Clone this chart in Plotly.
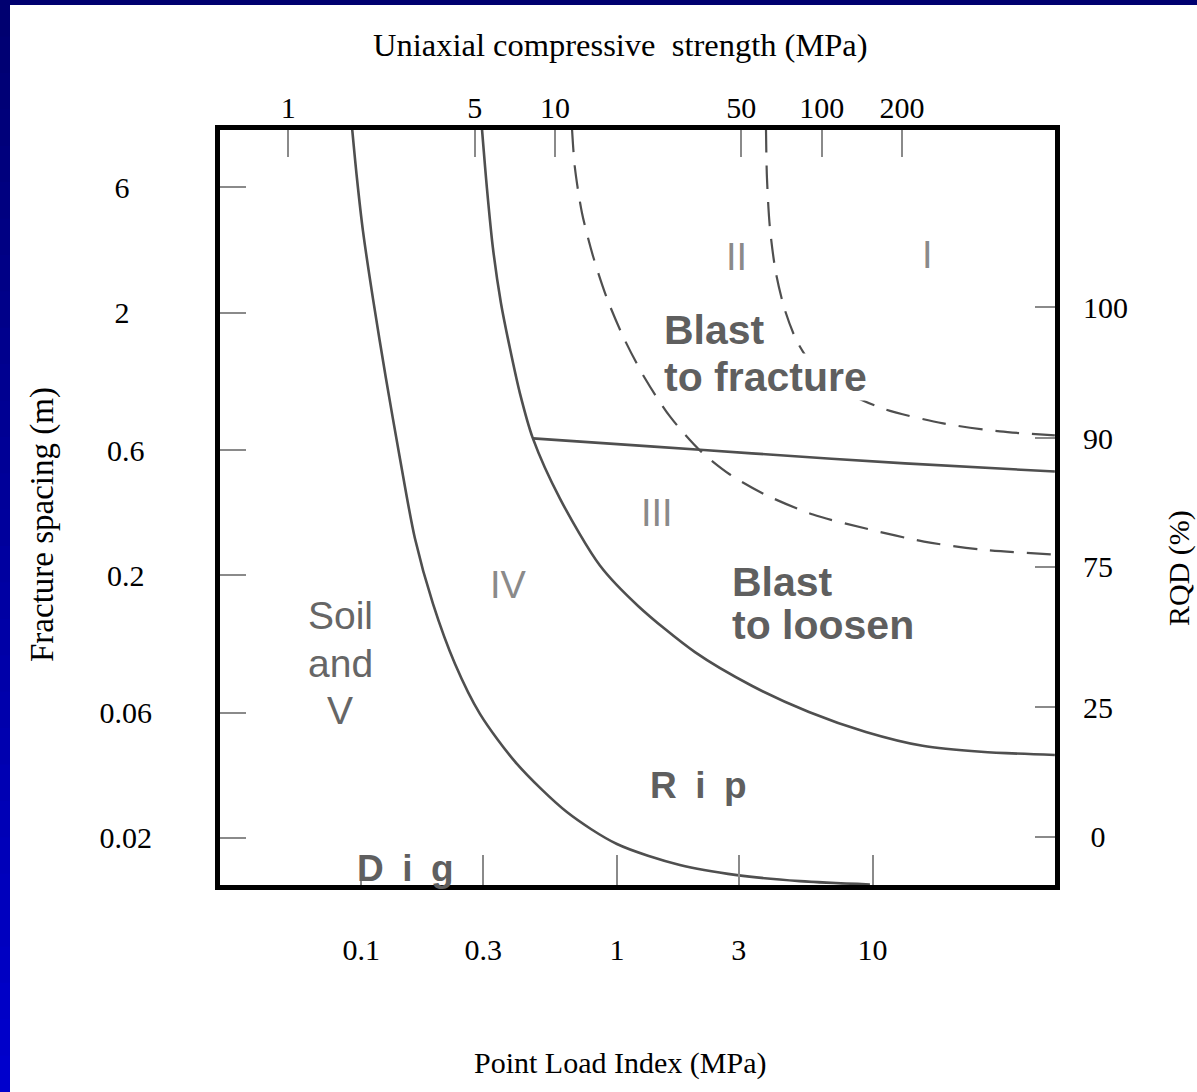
import plotly.graph_objects as go

# ---------------- data ----------------
# Axis ticks
is_ticks = [0.1, 0.3, 1, 3, 10]                 # Point Load Index (MPa)
is_labels = ["0.1", "0.3", "1", "3", "10"]
ucs_ticks = [1, 5, 10, 50, 100, 200]            # Uniaxial compressive strength (MPa)
ucs_labels = ["1", "5", "10", "50", "100", "200"]
spacing_ticks = [6, 2, 0.6, 0.2, 0.06, 0.02]    # Fracture spacing (m)
spacing_labels = ["6", "2", "0.6", "0.2", "0.06", "0.02"]
rqd_at_spacing = [2.1, 0.665, 0.216, 0.063, 0.0202]   # RQD ticks expressed as spacing
rqd_labels = ["100", "90", "75", "25", "0"]

# Boundary curves: point load index (MPa) vs fracture spacing (m)
dig_rip_is = [0.0920, 0.0961, 0.1015, 0.1110, 0.1248, 0.1416, 0.1621, 0.1906, 0.2324,
              0.2911, 0.4062, 0.637, 1.0, 1.763, 2.95, 5.2, 9.77]
dig_rip_sp = [10.1, 6.52, 4.09, 2.27, 1.126, 0.5577, 0.2763, 0.1561, 0.0922,
              0.0594, 0.0383, 0.0251, 0.01897, 0.01578, 0.01444, 0.0137, 0.0133]

rip_blast_is = [0.2963, 0.3100, 0.3272, 0.3517, 0.3814, 0.4174, 0.469, 0.598, 0.858,
                1.21, 2.02, 3.37, 5.64, 9.42, 15.7, 26.6, 51.7]
rip_blast_sp = [10.1, 5.97, 3.53, 2.18, 1.465, 0.987, 0.665, 0.393, 0.218,
                0.153, 0.102, 0.076, 0.0604, 0.0507, 0.0449, 0.0426, 0.0414]

loosen_fracture_is = [0.469, 1.35, 3.37, 13.4, 51.7]
loosen_fracture_sp = [0.665, 0.620, 0.583, 0.534, 0.497]

class_2_3_is = [0.667, 0.685, 0.730, 0.806, 0.914, 1.065, 1.287, 1.612, 2.112, 2.768,
                3.794, 5.85, 9.42, 15.9, 26.6, 51.7]
class_2_3_sp = [10.1, 7.12, 4.80, 3.29, 2.27, 1.600, 1.126, 0.806, 0.598, 0.4845,
                0.4065, 0.3410, 0.3016, 0.269, 0.2508, 0.240]

class_1_2_is = [3.83, 3.864, 3.969, 4.190, 4.543, 5.061, 5.793, 6.813, 8.306, 11.2,
                18.9, 31.5, 51.7]
class_1_2_sp = [10.1, 6.52, 4.204, 2.831, 2.046, 1.558, 1.273, 1.097, 0.970, 0.858,
                0.758, 0.707, 0.682]

# ---------------- figure ----------------
W, H = 1197, 1092
ML, MR, MT, MB = 220, 142, 130, 207
PW, PH = W - ML - MR, H - MT - MB

def px(xp):
    return (xp - ML) / PW

def py(yp):
    return (H - MB - yp) / PH

SERIF = "Times New Roman, Liberation Serif, serif"
SANS = "Arial, Liberation Sans, Helvetica, sans-serif"
LINE = "#4f4f4f"
TICK = "#8a8a8a"
NB = "\u00a0"

fig = go.Figure()

solid = dict(color=LINE, width=2.6)
dashed = dict(color=LINE, width=2.2, dash="24px,13px")

for xs, ys, ln in [
    (dig_rip_is, dig_rip_sp, solid),
    (rip_blast_is, rip_blast_sp, solid),
    (loosen_fracture_is, loosen_fracture_sp, solid),
    (class_2_3_is, class_2_3_sp, dashed),
    (class_1_2_is, class_1_2_sp, dashed),
]:
    fig.add_trace(go.Scatter(x=xs, y=ys, mode="lines", line=dict(shape="spline", smoothing=0.8, **ln),
                             hoverinfo="skip", showlegend=False))

# empty trace so that the secondary (UCS / RQD) axes are drawn
fig.add_trace(go.Scatter(x=[None], y=[None], xaxis="x2", yaxis="y2", mode="lines",
                         hoverinfo="skip", showlegend=False))

axis_common = dict(type="log", showgrid=False, zeroline=False, ticks="inside",
                   tickwidth=2, tickcolor=TICK, fixedrange=True,
                   tickfont=dict(family=SERIF, size=30, color="black"))

# pad short labels so that the left labels look centred like the reference
left_text = [s + NB * round((4 - len(s)) * 0.9) if len(s) < 4 else s for s in spacing_labels]
right_text = [NB + s if len(s) == 1 else s for s in rqd_labels]

fig.update_layout(
    width=W, height=H,
    margin=dict(l=ML, r=MR, t=MT, b=MB),
    paper_bgcolor="white", plot_bgcolor="white", showlegend=False,
    xaxis=dict(axis_common, range=[-1.553, 1.714], tickvals=is_ticks, ticktext=is_labels,
               ticklen=30, showline=True, linewidth=5, linecolor="black", mirror=True,
               ticklabelstandoff=34),
    xaxis2=dict(axis_common, range=[-0.256, 2.875], tickvals=ucs_ticks, ticktext=ucs_labels,
                overlaying="x", side="top", anchor="y", ticklen=27, showline=False,
                ticklabelstandoff=5),
    yaxis=dict(axis_common, range=[-1.878, 0.997], tickvals=spacing_ticks, ticktext=left_text,
               ticklen=26, showline=True, linewidth=5, linecolor="black", mirror=True,
               ticklabelstandoff=57),
    yaxis2=dict(axis_common, range=[-1.878, 0.997], tickvals=rqd_at_spacing, ticktext=right_text,
                overlaying="y", side="right", anchor="x", ticklen=20, showline=False,
                ticklabelstandoff=27),
)

# Slide decoration: navy top strip and blue gradient left strip
nb = 30
for i in range(nb):
    t = i / (nb - 1)
    b = int(round(0x70 + (0xCC - 0x70) * t))
    fig.add_shape(type="rect", xref="paper", yref="paper", x0=px(0), x1=px(10),
                  y0=py(min(H, H * (i + 1) / nb + 2)), y1=py(H * i / nb),
                  line_width=0, fillcolor=f"rgb(0,0,{b})", layer="above")
fig.add_shape(type="rect", xref="paper", yref="paper", x0=px(0), x1=px(W), y0=py(5), y1=py(0),
              line_width=0, fillcolor="#000070", layer="above")

# Axis titles
for txt, xx, yy, ang, size in [
    ("Uniaxial compressive  strength (MPa)", 620, 45, 0, 32.5),
    ("Point Load Index (MPa)", 620, 1063, 0, 30),
    ("Fracture spacing (m)", 42, 525, -90, 33),
    ("RQD (%)", 1179, 568, -90, 30),
]:
    fig.add_annotation(text=txt, xref="paper", yref="paper", x=px(xx), y=py(yy), textangle=ang,
                       xanchor="center", yanchor="middle", showarrow=False,
                       font=dict(family=SERIF, size=size, color="black"))

# Region labels
WORD = dict(family=SANS, size=41, color="#5f5f5f")
SOFT = dict(family=SANS, size=39, color="#666666")
ROMAN = dict(family=SANS, size=38, color="#8a8a8a")
labels = [
    ("I", 927, 255, "center", ROMAN, None),
    ("II", 736, 257, "center", ROMAN, None),
    ("III", 657, 513, "center", ROMAN, None),
    ("IV", 508, 585, "center", ROMAN, None),
    ("<b>Blast</b>", 663, 330, "left", WORD, None),
    ("<b>to fracture</b>", 663, 377, "left", WORD, "white"),
    ("<b>Blast</b>", 731, 582, "left", WORD, None),
    ("<b>to loosen</b>", 731, 625, "left", WORD, None),
    ("Soil", 340, 615, "center", SOFT, None),
    ("and", 340, 663, "center", SOFT, None),
    ("V", 340, 710, "center", SOFT, None),
    ("<b>D\u2002i\u2002g</b>", 405, 868, "center", dict(WORD, size=37), None),
    ("<b>R\u2002i\u2002p</b>", 698, 785, "center", dict(WORD, size=37), None),
]
for txt, xx, yy, anc, fnt, bg in labels:
    fig.add_annotation(text=txt, xref="paper", yref="paper", x=px(xx), y=py(yy),
                       xanchor=anc, yanchor="middle", showarrow=False, font=fnt,
                       bgcolor=bg if bg else "rgba(0,0,0,0)", borderpad=0)

fig.write_html("out.html", config={"displayModeBar": False},
               post_script="document.body.style.margin='0px';")
